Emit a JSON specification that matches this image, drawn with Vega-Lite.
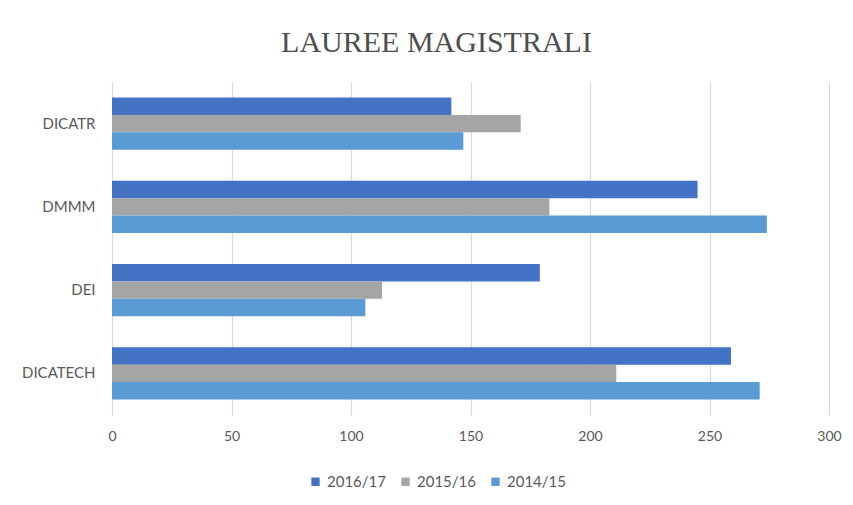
{
  "$schema": "https://vega.github.io/schema/vega-lite/v6.json",
  "autosize": "none",
  "width": 717,
  "height": 333,
  "padding": {"left": 112, "top": 82, "right": 24, "bottom": 90},
  "background": "white",
  "title": {
    "text": "LAUREE MAGISTRALI",
    "font": "Liberation Serif",
    "fontSize": 30,
    "fontWeight": "normal",
    "color": "#4d4d4d",
    "anchor": "middle",
    "frame": "group",
    "dx": -34,
    "offset": 24
  },
  "data": {
    "values": [
      {"dip": "DICATR", "anno": "2016/17", "laureati": 142},
      {"dip": "DICATR", "anno": "2015/16", "laureati": 171},
      {"dip": "DICATR", "anno": "2014/15", "laureati": 147},
      {"dip": "DMMM", "anno": "2016/17", "laureati": 245},
      {"dip": "DMMM", "anno": "2015/16", "laureati": 183},
      {"dip": "DMMM", "anno": "2014/15", "laureati": 274},
      {"dip": "DEI", "anno": "2016/17", "laureati": 179},
      {"dip": "DEI", "anno": "2015/16", "laureati": 113},
      {"dip": "DEI", "anno": "2014/15", "laureati": 106},
      {"dip": "DICATECH", "anno": "2016/17", "laureati": 259},
      {"dip": "DICATECH", "anno": "2015/16", "laureati": 211},
      {"dip": "DICATECH", "anno": "2014/15", "laureati": 271}
    ]
  },
  "mark": {"type": "bar"},
  "encoding": {
    "y": {
      "field": "dip",
      "type": "nominal",
      "sort": ["DICATR", "DMMM", "DEI", "DICATECH"],
      "scale": {"paddingInner": 0.372, "paddingOuter": 0.186},
      "axis": {
        "title": null,
        "ticks": false,
        "domain": false,
        "labelPadding": 17,
        "labelFont": "Lato",
        "labelFontSize": 15,
        "labelColor": "#595959"
      }
    },
    "yOffset": {
      "field": "anno",
      "type": "nominal",
      "sort": ["2016/17", "2015/16", "2014/15"],
      "scale": {"paddingInner": 0, "paddingOuter": 0}
    },
    "x": {
      "field": "laureati",
      "type": "quantitative",
      "scale": {"domain": [0, 300], "nice": false},
      "axis": {
        "title": null,
        "values": [0, 50, 100, 150, 200, 250, 300],
        "ticks": false,
        "domain": false,
        "grid": true,
        "gridColor": "#d9d9d9",
        "gridWidth": 1.2,
        "labelFlush": false,
        "labelPadding": 14,
        "labelFont": "Lato",
        "labelFontSize": 14,
        "labelColor": "#595959"
      }
    },
    "color": {
      "field": "anno",
      "type": "nominal",
      "sort": ["2016/17", "2015/16", "2014/15"],
      "scale": {
        "domain": ["2016/17", "2015/16", "2014/15"],
        "range": ["#4472C4", "#A5A5A5", "#5B9BD5"]
      },
      "legend": {
        "title": null,
        "orient": "none",
        "legendX": 196,
        "legendY": 392,
        "direction": "horizontal",
        "symbolType": "square",
        "symbolSize": 70,
        "symbolStrokeWidth": 0,
        "labelFont": "Lato",
        "labelFontSize": 15,
        "labelColor": "#595959",
        "columnPadding": 12
      }
    }
  },
  "config": {"view": {"stroke": null}}
}
